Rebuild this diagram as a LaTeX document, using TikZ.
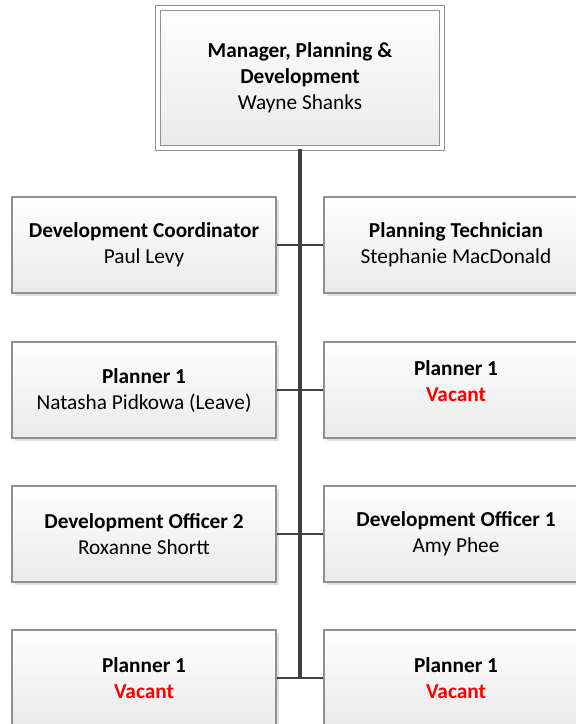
\documentclass[tikz,border=0pt]{standalone}
\usepackage{fontspec}
\setmainfont{Carlito}
\usepackage{tikz}
\usetikzlibrary{shadows}
\definecolor{boxgray}{HTML}{909090}
\definecolor{linegray}{HTML}{404040}
\definecolor{fillgray}{HTML}{EAEAEA}
\definecolor{vacantred}{HTML}{FF0000}
\newcommand{\vacant}{\textcolor{vacantred}{\textbf{Vacant}}}

\begin{document}
\begin{tikzpicture}[x=1pt,y=-1pt,
  box/.style={draw=boxgray,line width=1.2pt,top color=white,bottom color=fillgray,
    drop shadow={shadow xshift=2.5pt,shadow yshift=-2.5pt,fill=black!12,opacity=1},
    minimum width=264pt,minimum height=96pt,inner sep=0pt,align=center,
    font=\fontsize{21.3}{26}\selectfont},
  topbox/.style={box,double=white,double distance=3.5pt,minimum width=284pt,minimum height=140pt},
  link/.style={draw=linegray,line width=2.5pt},
  trunk/.style={draw=linegray,line width=3.5pt}]
\useasboundingbox (0,0) rectangle (576,724);
\node[topbox] (mgr) at (300,78) {\textbf{Manager, Planning \&}\\\textbf{Development}\\Wayne Shanks};
\node[box] (dc) at (144,245) {\textbf{Development Coordinator}\\Paul Levy};
\node[box] (pt) at (456,245) {\textbf{Planning Technician}\\Stephanie MacDonald};
\node[box] (pl) at (144,390) {\textbf{Planner 1}\\Natasha Pidkowa (Leave)};
\node[box] (pv) at (456,390) {\raisebox{7pt}[\height][\depth]{\begin{tabular}{@{}c@{}}\textbf{Planner 1}\\\vacant\end{tabular}}};
\node[box] (dotwo) at (144,534) {\textbf{Development Officer 2}\\Roxanne Shortt};
\node[box] (doone) at (456,534) {\textbf{Development Officer 1}\\Amy Phee};
\node[box] (pvl) at (144,678) {\textbf{Planner 1}\\\vacant};
\node[box] (pvr) at (456,678) {\textbf{Planner 1}\\\vacant};
\coordinate (end) at (300,678);
\draw[trunk] (mgr.south) -- (end);
\foreach \l/\r in {dc/pt,pl/pv,dotwo/doone,pvl/pvr} \draw[link] (\l.east) -- (\r.west);
\end{tikzpicture}
\end{document}
